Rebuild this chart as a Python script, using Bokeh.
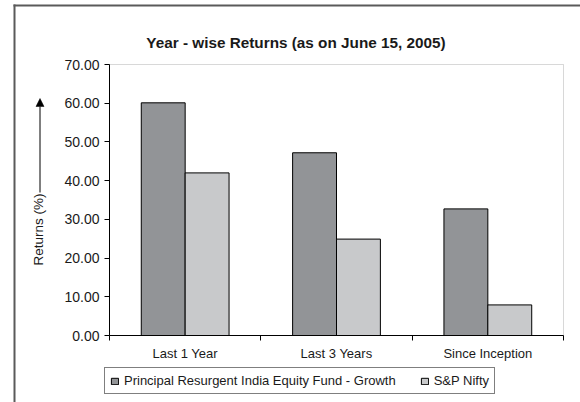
from bokeh.plotting import figure
from bokeh.models import (Range1d, FixedTicker, NumeralTickFormatter, Legend, LegendItem,
                          Label, Arrow, NormalHead, ColumnDataSource, LinearAxis, BoxAnnotation)
from bokeh.transform import dodge
from bokeh.embed import file_html
from bokeh.resources import INLINE

# ---- data ----
categories = ["Last 1 Year", "Last 3 Years", "Since Inception"]
fund = [60.1, 47.2, 32.7]
nifty = [42.0, 24.9, 7.9]
series_names = ["Principal Resurgent India Equity Fund - Growth", "S&P Nifty"]
y_ticks = [0, 10, 20, 30, 40, 50, 60, 70]
title_text = "Year - wise Returns (as on June 15, 2005)"
y_label = "Returns (%)"

FONT = "Liberation Sans"
TXT = "#1a1a1a"
DARK = "#929497"
LIGHT = "#c8c9cb"
BORDER = "#5a5a5a"

W, H = 580, 402
PL, PR, PT, PB = 109, 563, 64, 335     # plot-area edges in pixels
YMAX = 70
NCAT = len(categories)


def x_of(px):   # pixel column -> x data value
    return (px - PL) * NCAT / (PR - PL)


def y_of(py):   # pixel row -> y data value
    return (PB - py) * YMAX / (PB - PT)


pos = [i + 0.5 for i in range(NCAT)]
bounds = [float(i) for i in range(NCAT + 1)]
source = ColumnDataSource(dict(x=pos, fund=fund, nifty=nifty))

# the frame covers the whole canvas; axes are pinned with fixed_location
p = figure(width=W, height=H, output_backend="svg", toolbar_location=None,
           x_range=Range1d(x_of(0), x_of(W)), y_range=Range1d(y_of(H), y_of(0)),
           x_axis_type=None, y_axis_type=None, min_border=0)
p.outline_line_color = None
p.background_fill_color = "white"
p.border_fill_color = "white"


def rule(**kw):
    base = dict(ticker=FixedTicker(ticks=[]), major_tick_out=0, major_tick_in=0,
                minor_tick_out=0, minor_tick_in=0, major_tick_line_color=None,
                minor_tick_line_color=None, major_label_standoff=0,
                axis_line_color=BORDER, axis_line_width=2)
    base.update(kw)
    return LinearAxis(**base)


# outer chart border: only its top and left edges are in view
p.add_layout(rule(fixed_location=x_of(14), bounds=(y_of(H), y_of(4))), "left")
p.add_layout(rule(fixed_location=y_of(5), bounds=(x_of(13), x_of(W))), "above")

# grey plot-area border
p.add_layout(BoxAnnotation(left=0, right=NCAT, bottom=0, top=YMAX,
                           fill_color=None, fill_alpha=0, line_color="#7f7f7f", line_width=1,
                           level="underlay"))

r1 = p.vbar(x=dodge("x", -0.145), top="fund", width=0.29, source=source,
            fill_color=DARK, line_color="black", line_width=1)
r2 = p.vbar(x=dodge("x", 0.145), top="nifty", width=0.29, source=source,
            fill_color=LIGHT, line_color="black", line_width=1)

xaxis = LinearAxis(fixed_location=0, bounds=(0, NCAT),
                   ticker=FixedTicker(ticks=pos, minor_ticks=bounds),
                   major_label_overrides={pos[i]: categories[i] for i in range(NCAT)},
                   major_tick_line_color=None, minor_tick_out=5, minor_tick_in=0,
                   minor_tick_line_color="black", axis_line_color="black",
                   major_label_text_font=FONT, major_label_text_font_size="13px",
                   major_label_text_color=TXT, major_label_standoff=4)
p.add_layout(xaxis, "below")

yaxis = LinearAxis(fixed_location=0, bounds=(0, YMAX),
                   ticker=FixedTicker(ticks=y_ticks), formatter=NumeralTickFormatter(format="0.00"),
                   major_tick_out=5, major_tick_in=0, minor_tick_line_color=None,
                   axis_line_color="black", major_tick_line_color="black",
                   major_label_text_font=FONT, major_label_text_font_size="14px",
                   major_label_text_color=TXT, major_label_standoff=5)
p.add_layout(yaxis, "left")

# title
p.add_layout(Label(x=x_of(295.5), y=y_of(41.5), text=title_text, text_align="center",
                   text_baseline="alphabetic", text_font=FONT, text_font_size="15.3px",
                   text_font_style="bold", text_color=TXT))

# y-axis title with its upward arrow
p.add_layout(Label(x=x_of(38), y=y_of(229), text=y_label, angle=90, angle_units="deg",
                   text_align="center", text_baseline="middle",
                   text_font=FONT, text_font_size="13.5px", text_color=TXT))
p.add_layout(Arrow(x_start=x_of(39.5), y_start=y_of(192), x_end=x_of(39.5), y_end=y_of(98),
                   line_color="black", line_width=1,
                   end=NormalHead(size=8, fill_color="black", line_color="black", line_width=0.5)))

legend = Legend(items=[LegendItem(label=series_names[0], renderers=[r1]),
                       LegendItem(label=series_names[1], renderers=[r2])],
                orientation="horizontal", location=(104, H - 394),
                border_line_color="black", border_line_width=1, background_fill_color="white",
                background_fill_alpha=1,
                label_text_font=FONT, label_text_font_size="13px", label_text_color=TXT,
                glyph_width=9, glyph_height=8, label_standoff=5, spacing=24,
                padding=5, label_height=7, margin=0)
p.add_layout(legend)

open("out.html", "w").write(file_html(p, INLINE))
